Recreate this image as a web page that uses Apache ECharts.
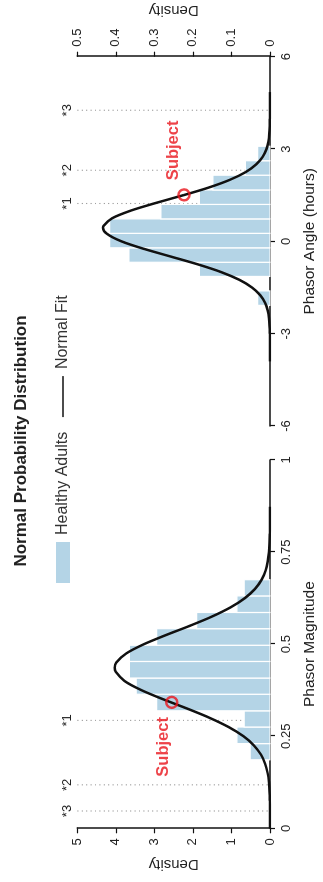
<!DOCTYPE html>
<html><head><meta charset="utf-8">
<script src="https://cdn.jsdelivr.net/npm/echarts@6/dist/echarts.min.js"></script>
<style>
html,body{margin:0;padding:0;width:323px;height:882px;overflow:hidden;background:#fff;}
#chart{position:absolute;left:0;top:0;width:882px;height:323px;transform-origin:0 0;transform:translate(0,882px) rotate(-90deg);}
</style></head><body><div id="chart"></div>
<script>
// ---------- data ----------
const titleText = 'Normal Probability Distribution';
const barName = 'Healthy Adults';
const fitName = 'Normal Fit';

// Phasor Magnitude histogram
const magBinEdges = [0.186, 0.230, 0.275, 0.319, 0.364, 0.408, 0.453, 0.497, 0.542, 0.586, 0.631, 0.675];
const magDensity  = [0.514, 0.859, 0.669, 2.942, 3.472, 3.645, 3.645, 2.942, 1.903, 0.859, 0.669];
// Normal fit
const magFitX = [0, 0.025, 0.05, 0.075, 0.1, 0.125, 0.15, 0.175, 0.2, 0.225, 0.25, 0.275, 0.3, 0.325, 0.35, 0.375, 0.4, 0.425, 0.436, 0.45, 0.475, 0.5, 0.525, 0.55, 0.575, 0.6, 0.625, 0.65, 0.675, 0.7, 0.725, 0.75, 0.775, 0.8, 0.825, 0.85, 0.873];
const magFitY = [0, 0.001, 0.002, 0.005, 0.013, 0.029, 0.062, 0.125, 0.235, 0.416, 0.690, 1.074, 1.568, 2.149, 2.764, 3.333, 3.773, 4.005, 4.03, 3.990, 3.728, 3.270, 2.691, 2.077, 1.503, 1.022, 0.652, 0.390, 0.219, 0.115, 0.057, 0.026, 0.011, 0.005, 0.002, 0.001, 0];
const magSubject = [0.342, 2.55];
const magRefX = [0.293, 0.118, 0.047];
const magRefLabels = ['*1', '*2', '*3'];
const magXTicks = {min: 0, max: 1, interval: 0.25};
const magYTicks = {min: 0, max: 5, interval: 1};

// Phasor Angle histogram
const angBinEdges = [-2.08, -1.61, -1.14, -0.68, -0.21, 0.26, 0.73, 1.20, 1.67, 2.15, 2.62, 3.09];
const angDensity  = [0.032, 0, 0.183, 0.366, 0.416, 0.416, 0.283, 0.183, 0.148, 0.064, 0.032];
const angFitX = [-3.9, -3.5, -3.25, -3.0, -2.75, -2.5, -2.25, -2.0, -1.75, -1.5, -1.25, -1.0, -0.75, -0.5, -0.25, 0, 0.25, 0.445, 0.5, 0.75, 1.0, 1.25, 1.5, 1.75, 2.0, 2.25, 2.5, 2.75, 3.0, 3.25, 3.5, 3.75, 4.0, 4.25, 4.5, 4.85];
const angFitY = [0, 0, 0.0001, 0.0004, 0.0011, 0.0026, 0.006, 0.0128, 0.0253, 0.0466, 0.0796, 0.1264, 0.1868, 0.2558, 0.3256, 0.3853, 0.4234, 0.433, 0.4322, 0.4099, 0.3610, 0.2955, 0.2247, 0.1586, 0.1041, 0.0634, 0.0359, 0.0189, 0.0092, 0.0042, 0.0018, 0.0007, 0.0003, 0.0001, 0, 0];
const angSubject = [1.51, 0.223];
const angRefX = [1.23, 2.31, 4.26];
const angRefLabels = ['*1', '*2', '*3'];
const angXTicks = {min: -6, max: 6, interval: 3};
const angYTicks = {min: 0, max: 0.5, interval: 0.1};

const xNames = ['Phasor Magnitude', 'Phasor Angle (hours)'];
const yName = 'Density';
const subjectLabel = 'Subject';

// ---------- styles ----------
const FONT = 'Liberation Sans, Arial, Helvetica, sans-serif';
const BAR = '#b4d4e6';
const RED = '#e8141b';
const INK = '#222';

function bins(edges, dens){ return dens.map((h,i)=>[edges[i], edges[i+1], h]); }
function pairs(xs, ys){ return xs.map((x,i)=>[x, ys[i]]); }

function barSeries(idx, data){
  return {type:'custom', name: barName, xAxisIndex: idx, yAxisIndex: idx, z: 2,
    itemStyle:{color: BAR}, encode:{x:[0,1], y:2}, data: data, silent:true,
    renderItem: function(params, api){
      const h = api.value(2);
      if (!h) return null;
      const a = api.coord([api.value(0), h]);
      const b = api.coord([api.value(1), 0]);
      return {type:'rect', shape:{x:a[0], y:a[1], width:b[0]-a[0], height:b[1]-a[1]},
        style:{fill: BAR, stroke:'#fff', lineWidth:1.2}};
    }};
}
function refSeries(idx, xs, labels, ymax){
  return {type:'custom', xAxisIndex: idx, yAxisIndex: idx, z: 1, silent:true,
    data: xs.map(x=>[x, 0]),
    renderItem: function(params, api){
      const x = api.value(0);
      const top = api.coord([x, ymax]);
      const bot = api.coord([x, 0]);
      return {type:'group', children:[
        {type:'line', shape:{x1:top[0], y1:top[1], x2:bot[0], y2:bot[1]},
          style:{stroke:'#a0a0a0', lineWidth:1.1, lineDash:[1.2,3.2]}},
        {type:'text', x: top[0], y: top[1]-3,
          style:{text: labels[params.dataIndex], textAlign:'center', textVerticalAlign:'bottom',
            font: '13px ' + FONT, fill: INK}}
      ]};
    }};
}
function fitSeries(idx, data){
  return {type:'line', name: fitName, xAxisIndex: idx, yAxisIndex: idx, z: 3,
    data: data, showSymbol:false, symbol:'none', smooth:0.3, silent:true,
    lineStyle:{color:'#111', width:2.5}, itemStyle:{color:'#111'}};
}
function subjectSeries(idx, pt, pos, offset){
  return {type:'scatter', name: subjectLabel, xAxisIndex: idx, yAxisIndex: idx, z: 4,
    data:[pt], symbol:'circle', symbolSize: 11, silent:true,
    itemStyle:{color:'rgba(255,255,255,0)', borderColor: RED, borderWidth: 2.5},
    label:{show:true, formatter: subjectLabel, position: pos, distance: 8, offset: offset,
      color: RED, fontSize: 16.5, fontWeight:'bold', fontFamily: FONT}};
}
function xAxis(idx, t, name){
  return {type:'value', gridIndex: idx, min:t.min, max:t.max, interval:t.interval,
    name: name, nameLocation:'middle', nameGap: 32,
    nameTextStyle:{fontSize:15.5, color:INK, fontFamily:FONT},
    axisLine:{show:true, onZero:false, lineStyle:{color:'#111', width:1.5}},
    axisTick:{show:true, length:5, lineStyle:{color:'#111', width:1.2}},
    axisLabel:{fontSize:13, color:INK, fontFamily:FONT, margin:10},
    splitLine:{show:false}};
}
function yAxis(idx, t, pos, gap){
  return {type:'value', gridIndex: idx, min:t.min, max:t.max, interval:t.interval, position: pos,
    name: yName, nameLocation:'middle', nameRotate: 90, nameGap: gap,
    nameTextStyle:{fontSize:15, color:INK, fontFamily:FONT},
    axisLine:{show:true, onZero:false, lineStyle:{color:'#111', width:1.5}},
    axisTick:{show:true, length:5, lineStyle:{color:'#111', width:1.2}},
    axisLabel:{fontSize:13, color:INK, fontFamily:FONT, margin:10},
    splitLine:{show:false}};
}

const chart = echarts.init(document.getElementById('chart'), null, {renderer:'canvas'});
chart.setOption({
  animation:false,
  backgroundColor:'#fff',
  title:{text: titleText, left:'center', top: 13, padding:0,
    textStyle:{fontSize:17, fontWeight:'bold', color:INK, fontFamily:FONT}},
  legend:{left: 299, top: 55, padding:0, itemWidth: 41, itemHeight: 14, itemGap: 14,
    textStyle:{fontSize:16, color:'#333', fontFamily:FONT, padding:[0,0,0,2]},
    data:[{name: barName, icon:'rect', itemStyle:{color: BAR}},
          {name: fitName, itemStyle:{opacity:0}, lineStyle:{width:1.5, color:'#111'}}]},
  grid:[
    {left: 53.7, width: 368.3, top: 77.3, height: 194.4},
    {left: 456, width: 369.3, top: 77.3, height: 194.4}
  ],
  xAxis:[xAxis(0, magXTicks, xNames[0]), xAxis(1, angXTicks, xNames[1])],
  yAxis:[yAxis(0, magYTicks, 'left', 28), yAxis(1, angYTicks, 'right', 39)],
  series:[
    refSeries(0, magRefX, magRefLabels, magYTicks.max),
    refSeries(1, angRefX, angRefLabels, angYTicks.max),
    barSeries(0, bins(magBinEdges, magDensity)),
    barSeries(1, bins(angBinEdges, angDensity)),
    fitSeries(0, pairs(magFitX, magFitY)),
    fitSeries(1, pairs(angFitX, angFitY)),
    subjectSeries(0, magSubject, 'left', [0,-8]),
    subjectSeries(1, angSubject, 'right', [0,-11])
  ]
});
</script></body></html>
